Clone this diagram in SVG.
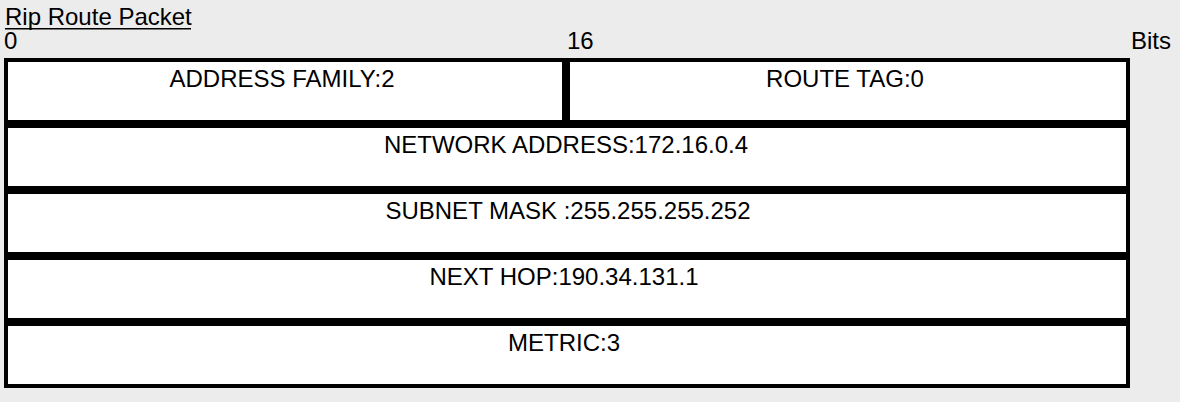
<svg xmlns="http://www.w3.org/2000/svg" width="1180" height="402" viewBox="0 0 1180 402">
<style>
.bg{fill:#ececec}
.cell{fill:#ffffff;stroke:#000000;stroke-width:4}
text{font-family:"Liberation Sans",Arial,Helvetica,sans-serif;font-size:24px;fill:#000000}
.c{text-anchor:middle}
</style>
<rect class="bg" x="0" y="0" width="1180" height="402"/>
<g id="header">
<text x="5" y="25">Rip Route Packet</text>
<rect x="5" y="28" width="186" height="1.5" fill="#000"/>
<text x="4" y="49">0</text>
<text x="567" y="49">16</text>
<text x="1131" y="49">Bits</text>
</g>
<g id="address-family">
<rect class="cell" x="6" y="60" width="558" height="62"/>
<text class="c" x="282" y="87">ADDRESS FAMILY:2</text>
</g>
<g id="route-tag">
<rect class="cell" x="568" y="60" width="560" height="62"/>
<text class="c" x="845" y="87">ROUTE TAG:0</text>
</g>
<g id="network-address">
<rect class="cell" x="6" y="126" width="1122" height="62"/>
<text class="c" x="566" y="153">NETWORK ADDRESS:172.16.0.4</text>
</g>
<g id="subnet-mask">
<rect class="cell" x="6" y="192" width="1122" height="62"/>
<text class="c" x="568" y="219">SUBNET MASK :255.255.255.252</text>
</g>
<g id="next-hop">
<rect class="cell" x="6" y="258" width="1122" height="62"/>
<text class="c" x="564" y="285">NEXT HOP:190.34.131.1</text>
</g>
<g id="metric">
<rect class="cell" x="6" y="324" width="1122" height="62"/>
<text class="c" x="564" y="351">METRIC:3</text>
</g>
<g id="connectors"/>
</svg>
